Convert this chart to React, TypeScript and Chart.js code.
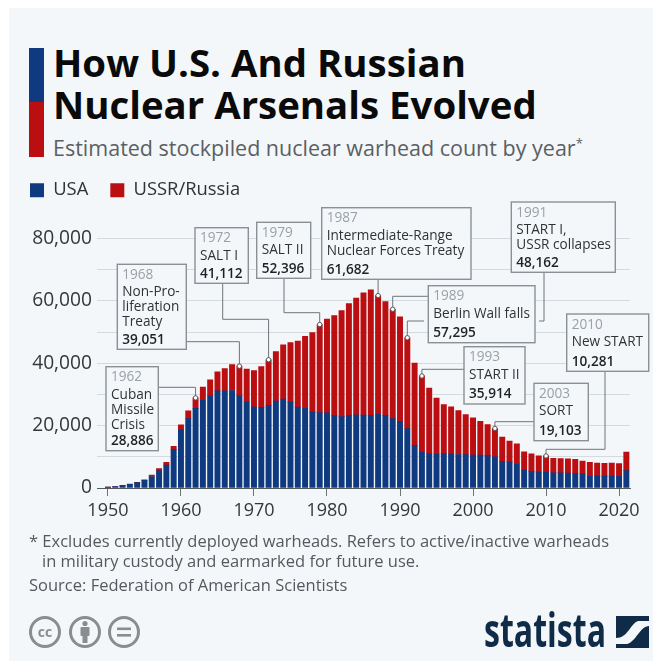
import React, { useEffect, useRef } from "react";
import { Chart, registerables } from "chart.js";

Chart.register(...registerables);

const years = [
  1950, 1951, 1952, 1953, 1954, 1955, 1956, 1957, 1958, 1959,
  1960, 1961, 1962, 1963, 1964, 1965, 1966, 1967, 1968, 1969,
  1970, 1971, 1972, 1973, 1974, 1975, 1976, 1977, 1978, 1979,
  1980, 1981, 1982, 1983, 1984, 1985, 1986, 1987, 1988, 1989,
  1990, 1991, 1992, 1993, 1994, 1995, 1996, 1997, 1998, 1999,
  2000, 2001, 2002, 2003, 2004, 2005, 2006, 2007, 2008, 2009,
  2010, 2011, 2012, 2013, 2014, 2015, 2016, 2017, 2018, 2019,
  2020, 2021,
];
const usaValues = [
  299, 438, 841, 1169, 1703, 2422, 3692, 5543, 7345, 12298,
  18638, 22229, 25540, 28133, 29463, 31139, 31175, 31255, 29561, 27552,
  26008, 25830, 26516, 27835, 28537, 27519, 25914, 25542, 24418, 24138,
  24104, 23208, 22886, 23305, 23459, 23368, 23317, 23575, 23205, 22217,
  21392, 19008, 13708, 11511, 10979, 10904, 11011, 10903, 10732, 10685,
  10577, 10526, 10457, 10027, 8570, 8360, 7853, 5709, 5273, 5113,
  5066, 4897, 4881, 4804, 4717, 4571, 4018, 3822, 3785, 3805,
  3750, 5550,
];
const russiaValues = [
  5, 25, 50, 120, 150, 200, 426, 660, 869, 1060,
  1605, 2471, 3346, 4238, 5221, 6129, 7089, 8339, 9490, 10538,
  11643, 13092, 14596, 15915, 17385, 19055, 21205, 23044, 25393, 28258,
  30062, 32049, 33952, 35804, 37431, 39197, 40159, 38107, 36538, 35078,
  33486, 29154, 26300, 24403, 21040, 17950, 15730, 15080, 14070, 12850,
  11900, 10880, 9890, 9076, 7720, 6640, 6300, 5890, 5690, 5210,
  5215, 4593, 4519, 4546, 4483, 4059, 4182, 4178, 4115, 4195,
  4050, 5950,
];
const seriesNames = ["USA", "USSR/Russia"];
const yTicks = [0, 20000, 40000, 60000, 80000];
const xTicks = [1950, 1960, 1970, 1980, 1990, 2000, 2010, 2020];

const noteYears = [1962, 1968, 1972, 1979, 1987, 1989, 1991, 1993, 2003, 2010];
const noteTitles = [
  ["Cuban", "Missile", "Crisis"],
  ["Non-Pro-", "liferation", "Treaty"],
  ["SALT I"],
  ["SALT II"],
  ["Intermediate-Range", "Nuclear Forces Treaty"],
  ["Berlin Wall falls"],
  ["START I,", "USSR collapses"],
  ["START II"],
  ["SORT"],
  ["New START"],
];

// Annotation layout, in page pixels: box [left, top, right, bottom] and leader waypoints.
const noteBoxes = [
  [106, 366.7, 158.3, 450.7],
  [117.3, 264.3, 186.3, 349.3],
  [195, 227.7, 248.3, 283.3],
  [256.7, 222.3, 310.7, 278.3],
  [321.7, 207.7, 471, 279.3],
  [428.3, 285.7, 535, 342.7],
  [511.3, 202, 615.3, 272.3],
  [464, 346.7, 525, 404],
  [534, 383.3, 588.3, 440.7],
  [566.7, 314, 648.7, 371.3],
];
const noteLeaders = [
  [[158.3, 387.3]],
  [[186.3, 341.7]],
  [[222.7, 283.3], [222.7, 319.3]],
  [[284, 278.3], [284, 312.7]],
  [[378.1, 279.3]],
  [[428.3, 296.3]],
  [[424, 321]],
  [[464, 369.3]],
  [[534, 421.7]],
  [[605, 371.3], [605, 449.3]],
];
const leaderStub = [[544, 272.3], [544, 321], [539, 321]];

const BG = "#f4f7fa";
const BLUE = "#0f3a80";
const RED = "#bb0e11";
const FONT = '"Open Sans", sans-serif';

const notesPlugin = {
  id: "notes",
  beforeLayout(chart: any) {
    const legend = chart.legend;
    if (legend && !legend.__wrapped) {
      const fit = legend.fit;
      legend.fit = function () {
        fit.call(this);
        this.height += 29;
      };
      legend.__wrapped = true;
    }
  },
  afterDatasetsDraw(chart: any) {
    const { ctx, scales } = chart;
    const anchors = noteYears.map((year) => {
      const i = years.indexOf(year);
      const total = usaValues[i] + russiaValues[i];
      return { x: scales.x.getPixelForValue(year), y: scales.y.getPixelForValue(total), total };
    });
    ctx.save();
    ctx.strokeStyle = "#6f7478";
    ctx.lineWidth = 1;
    const stroke = (pts: number[][]) => {
      ctx.beginPath();
      pts.forEach(([x, y], k) => (k ? ctx.lineTo(x, y) : ctx.moveTo(x, y)));
      ctx.stroke();
    };
    noteLeaders.forEach((pts, n) => {
      const a = anchors[n];
      const last = pts[pts.length - 1];
      stroke([...pts, [a.x, last[1]], [a.x, a.y]]);
    });
    stroke(leaderStub);
    noteBoxes.forEach(([l, t, r, b], n) => {
      ctx.fillStyle = BG;
      ctx.fillRect(l, t, r - l, b - t);
      ctx.strokeStyle = "#8b9094";
      ctx.lineWidth = 1.4;
      ctx.strokeRect(l, t, r - l, b - t);
      const tx = l + 5;
      ctx.textAlign = "left";
      ctx.textBaseline = "alphabetic";
      ctx.font = `400 13.6px ${FONT}`;
      ctx.fillStyle = "#9aa0a5";
      const yearY = t + 14.5;
      ctx.fillText(String(noteYears[n]), tx, yearY);
      ctx.fillStyle = "#2f3336";
      noteTitles[n].forEach((line, k) => ctx.fillText(line, tx, yearY + 17.3 + k * 15));
      ctx.font = `600 13.6px ${FONT}`;
      ctx.fillStyle = "#1f2225";
      ctx.fillText(anchors[n].total.toLocaleString("en-US"), tx, b - 5.7);
    });
    anchors.forEach((a) => {
      ctx.beginPath();
      ctx.arc(a.x, a.y, 2.2, 0, Math.PI * 2);
      ctx.fillStyle = "#ffffff";
      ctx.fill();
      ctx.strokeStyle = "#55595c";
      ctx.lineWidth = 1;
      ctx.stroke();
    });
    ctx.restore();
  },
};

const textStyle = (left: number, top: number, size: number, color: string, weight = 400): React.CSSProperties => ({
  position: "absolute",
  left,
  top,
  fontFamily: FONT,
  fontSize: size,
  fontWeight: weight,
  color,
  whiteSpace: "nowrap",
  lineHeight: 1,
});

export default function App() {
  const ref = useRef<HTMLCanvasElement>(null);
  useEffect(() => {
    const chart = new Chart(ref.current!, {
      type: "bar",
      data: {
        labels: years,
        datasets: [
          { label: seriesNames[0], data: usaValues, backgroundColor: BLUE, barThickness: 5.3 },
          { label: seriesNames[1], data: russiaValues, backgroundColor: RED, barThickness: 5.3 },
        ],
      },
      options: {
        responsive: false,
        animation: false,
        layout: { padding: { left: 8, right: 23, top: 159, bottom: 0 } },
        plugins: {
          tooltip: { enabled: false },
          legend: {
            display: true,
            position: "top",
            align: "start",
            labels: {
              boxWidth: 14,
              boxHeight: 14,
              padding: 22,
              color: "#2f3336",
              font: { family: FONT, size: 18.4 },
            },
          },
        },
        scales: {
          x: {
            type: "linear",
            stacked: true,
            offset: false,
            min: 1948.5,
            max: 2021.5,
            afterBuildTicks: (axis: any) => {
              axis.ticks = xTicks.map((value) => ({ value }));
            },
            afterFit: (axis: any) => {
              axis.height = 174;
            },
            grid: { offset: false, drawOnChartArea: false, drawTicks: true, tickLength: 8, color: "#6f7478" },
            border: { display: true, color: "#55595c", width: 1 },
            ticks: {
              autoSkip: false,
              maxRotation: 0,
              padding: 4,
              color: "#33373a",
              font: { family: FONT, size: 18 },
              callback: (v: any) => String(v),
            },
          },
          y: {
            stacked: true,
            min: 0,
            max: 80000,
            afterFit: (axis: any) => {
              axis.width = 89;
            },
            grid: { color: "#d5dade", lineWidth: 1, drawTicks: false },
            border: { display: false },
            ticks: {
              stepSize: 10000,
              autoSkip: false,
              padding: 5,
              color: "#33373a",
              font: { family: FONT, size: 19.2 },
              callback: (v: any) => (yTicks.includes(v) ? Number(v).toLocaleString("en-US") : ""),
            },
          },
        },
      },
      plugins: [notesPlugin],
    } as any);
    return () => chart.destroy();
  }, []);

  return (
    <div style={{ position: "absolute", left: 0, top: 0, width: 653, height: 662, overflow: "hidden", background: "#fff" }}>
      <div style={{ position: "absolute", left: 9, top: 8, width: 644, height: 653, background: BG }} />
      <div style={{ position: "absolute", left: 29, top: 48, width: 15, height: 54, background: BLUE }} />
      <div style={{ position: "absolute", left: 29, top: 102, width: 15, height: 55, background: RED }} />
      <div style={textStyle(53, 43, 38.4, "#0a0a0a", 700)}>How U.S. And Russian</div>
      <div style={textStyle(53, 85, 38.4, "#0a0a0a", 700)}>Nuclear Arsenals Evolved</div>
      <div style={textStyle(53, 137, 21.5, "#5a5f64")}>
        Estimated stockpiled nuclear warhead count by year<sup style={{ fontSize: 13, lineHeight: 0 }}>*</sup>
      </div>
      <canvas ref={ref} width={653} height={662} style={{ position: "absolute", left: 0, top: 0 }} />
      <div style={textStyle(29, 533, 16.5, "#55595d")}>* Excludes currently deployed warheads. Refers to active/inactive warheads</div>
      <div style={textStyle(42, 553, 16.5, "#55595d")}>in military custody and earmarked for future use.</div>
      <div style={textStyle(29, 577, 16.5, "#55595d")}>Source: Federation of American Scientists</div>
      <svg width={653} height={662} style={{ position: "absolute", left: 0, top: 0 }}>
        <g fill="none" stroke="#8a8c8e" strokeWidth={3}>
          <circle cx={45} cy={632} r={14.5} />
          <circle cx={85} cy={632} r={14.5} />
          <circle cx={124} cy={632} r={14.5} />
        </g>
        <text x={45} y={636.5} textAnchor="middle" fontFamily={FONT} fontSize={14} fontWeight={700} fill="#8a8c8e">cc</text>
        <g fill="#8a8c8e">
          <circle cx={85} cy={623.5} r={2.6} />
          <rect x={80.5} y={627} width={9} height={9} rx={1} />
          <rect x={82.5} y={634} width={5} height={9} />
          <rect x={117} y={627.5} width={14} height={2.6} />
          <rect x={117} y={634} width={14} height={2.6} />
        </g>
        <text x={484} y={647} textLength={122} lengthAdjust="spacingAndGlyphs" fontFamily={FONT} fontSize={46} fontWeight={700} fill="#0f2b47">statista</text>
        <rect x={616} y={616} width={33} height={32} fill="#0f2b47" />
        <path d="M616 638 C628 638 630 624 638 621 L649 621 L649 626 C640 626 636 642 627 644 L616 644 Z" fill="#f4f7fa" />
      </svg>
    </div>
  );
}
